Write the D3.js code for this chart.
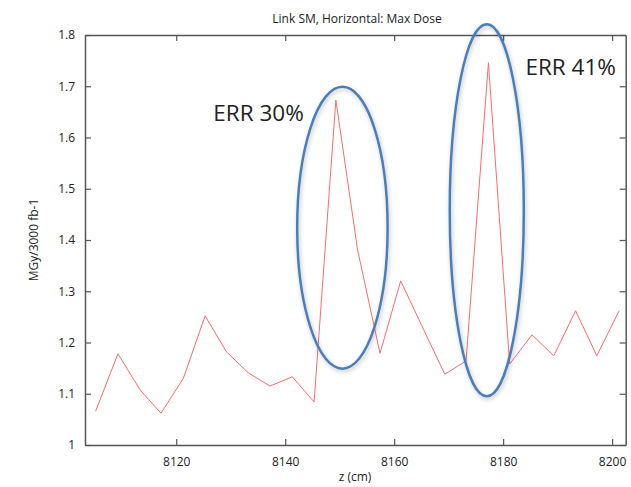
<!DOCTYPE html>
<html>
<head>
<meta charset="utf-8">
<script src="https://cdn.jsdelivr.net/npm/d3@7"></script>
<style>
  body { margin: 0; background: #fff; }
  text { font-family: "Open Sans", "Noto Sans", sans-serif; fill: #222; }
  .axis text { font-size: 12px; }
  .axis path, .axis line { stroke: #555; }
</style>
</head>
<body>
<div id="root"></div>
<script>
// data
const zValues = [8105.2, 8109.3, 8113.4, 8117.2, 8121.3, 8125.3, 8129.2, 8133.2, 8137.2, 8141.3,
                 8145.3, 8149.3, 8153.3, 8157.4, 8161.2, 8165.2, 8169.3, 8173.2, 8177.3, 8181.2,
                 8185.3, 8189.3, 8193.3, 8197.2, 8201.3]
const doseValues = [1.066, 1.178, 1.107, 1.062, 1.130, 1.252, 1.182, 1.141, 1.115, 1.133,
                    1.084, 1.673, 1.380, 1.179, 1.320, 1.230, 1.138, 1.164, 1.746, 1.158,
                    1.215, 1.174, 1.262, 1.174, 1.262]
const xTicks = [8120, 8140, 8160, 8180, 8200]
const yTicks = [1, 1.1, 1.2, 1.3, 1.4, 1.5, 1.6, 1.7, 1.8]
// annotation ellipses: centre z, centre dose, half width (cm), half height (dose), label
const notes = [
    {cz: 8150.5, cd: 1.424, rz: 8.3, rd: 0.275, label: "ERR 30%", lz: 8135.1, ld: 1.633},
    {cz: 8177.0, cd: 1.458, rz: 6.8, rd: 0.363, label: "ERR 41%", lz: 8192.4, ld: 1.722}
]

const w = 631, h = 487
const m = {left: 85, right: 5.3, top: 35, bottom: 42}

const x = d3.scaleLinear().domain([8103.25, 8202.5]).range([m.left, w - m.right])
const y = d3.scaleLinear().domain([1, 1.8]).range([h - m.bottom, m.top])

const svg = d3.select("#root").append("svg")
    .attr("width", w)
    .attr("height", h)

const defs = svg.append("defs")
const shadow = defs.append("filter").attr("id", "shadow")
    .attr("x", "-20%").attr("y", "-20%").attr("width", "140%").attr("height", "140%")
shadow.append("feDropShadow")
    .attr("dx", 1).attr("dy", 2).attr("stdDeviation", 2)
    .attr("flood-color", "#000").attr("flood-opacity", 0.25)

//title
svg.append("text")
    .attr("x", 357).attr("y", 23)
    .attr("text-anchor", "middle")
    .style("font-size", "12px")
    .text("Link SM, Horizontal: Max Dose")

//axes, with inward ticks on all four sides
const tick = 6
svg.append("g").attr("class", "axis")
    .attr("transform", `translate(0,${y(1)})`)
    .call(d3.axisBottom(x).tickValues(xTicks).tickSizeInner(-tick).tickSizeOuter(0).tickPadding(12).tickFormat(d3.format("d")))
svg.append("g").attr("class", "axis")
    .attr("transform", `translate(0,${y(1.8)})`)
    .call(d3.axisTop(x).tickValues(xTicks).tickSizeInner(-tick).tickSizeOuter(0).tickFormat(""))
svg.append("g").attr("class", "axis")
    .attr("transform", `translate(${x.range()[0]},0)`)
    .call(d3.axisLeft(y).tickValues(yTicks).tickSizeInner(-tick).tickSizeOuter(0).tickPadding(10).tickFormat(d3.format("")))
svg.append("g").attr("class", "axis")
    .attr("transform", `translate(${x.range()[1]},0)`)
    .call(d3.axisRight(y).tickValues(yTicks).tickSizeInner(-tick).tickSizeOuter(0).tickFormat(""))

svg.selectAll(".axis path").attr("stroke-width", 1.5)
svg.selectAll(".axis line").attr("stroke-width", 1.2)
svg.selectAll(".axis text").attr("fill", "#222")

svg.append("text")
    .attr("x", 355).attr("y", 481)
    .attr("text-anchor", "middle")
    .style("font-size", "12px")
    .text("z (cm)")

svg.append("text")
    .attr("transform", `translate(38,${(y(1) + y(1.8)) / 2}) rotate(-90)`)
    .attr("text-anchor", "middle")
    .style("font-size", "12px")
    .text("MGy/3000 fb-1")

//the series
const pts = zValues.map((z, i) => [z, doseValues[i]])
svg.append("path")
    .datum(pts)
    .attr("fill", "none")
    .attr("stroke", "#ff6a6a")
    .attr("stroke-width", 1)
    .attr("d", d3.line().x(d => x(d[0])).y(d => y(d[1])))

//annotations
svg.selectAll("ellipse.note").data(notes).enter().append("ellipse")
    .attr("class", "note")
    .attr("cx", d => x(d.cz))
    .attr("cy", d => y(d.cd))
    .attr("rx", d => x(d.cz + d.rz) - x(d.cz))
    .attr("ry", d => y(d.cd - d.rd) - y(d.cd))
    .attr("fill", "none")
    .attr("stroke", "#4a7ebb")
    .attr("stroke-width", 2.5)
    .attr("filter", "url(#shadow)")

svg.selectAll("text.note").data(notes).enter().append("text")
    .attr("class", "note")
    .attr("x", d => x(d.lz))
    .attr("y", d => y(d.ld))
    .attr("text-anchor", "middle")
    .style("font-size", "22.5px")
    .attr("fill", "#000")
    .text(d => d.label)
</script>
</body>
</html>
